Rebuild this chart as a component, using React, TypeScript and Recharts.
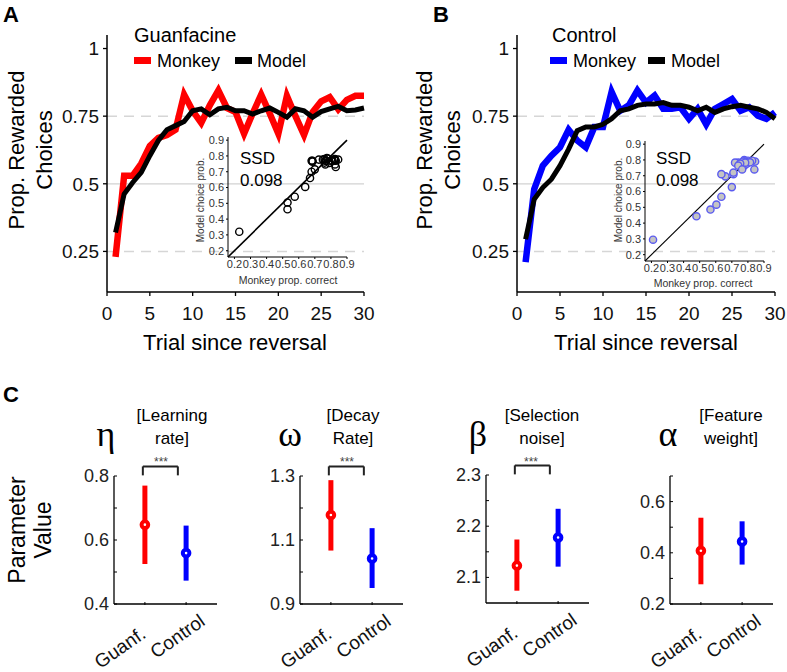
import React from "react";
import {
  LineChart,
  Line,
  XAxis,
  YAxis,
  ReferenceLine,
  ScatterChart,
  Scatter,
  ErrorBar,
} from "recharts";

// ---- panels A/B: proportion rewarded per trial ----
const trials = [1, 2, 3, 4, 5, 6, 7, 8, 9, 10, 11, 12, 13, 14, 15, 16, 17, 18, 19, 20, 21, 22, 23, 24, 25, 26, 27, 28, 29, 30];

const guanMonkey = [0.23, 0.53, 0.53, 0.575, 0.64, 0.67, 0.68, 0.7, 0.83, 0.77, 0.725, 0.79, 0.845, 0.78, 0.765, 0.685, 0.76, 0.83, 0.76, 0.685, 0.825, 0.75, 0.68, 0.765, 0.805, 0.82, 0.775, 0.81, 0.825, 0.825];
const guanModel = [0.32, 0.462, 0.505, 0.542, 0.604, 0.66, 0.7, 0.715, 0.73, 0.77, 0.777, 0.755, 0.777, 0.783, 0.77, 0.77, 0.758, 0.77, 0.78, 0.764, 0.746, 0.777, 0.77, 0.746, 0.767, 0.777, 0.786, 0.77, 0.773, 0.78];
const ctrlMonkey = [0.21, 0.48, 0.567, 0.604, 0.635, 0.7, 0.66, 0.635, 0.71, 0.71, 0.84, 0.77, 0.79, 0.845, 0.8, 0.826, 0.777, 0.777, 0.783, 0.74, 0.777, 0.72, 0.777, 0.795, 0.813, 0.77, 0.783, 0.752, 0.74, 0.764];
const ctrlModel = [0.295, 0.443, 0.486, 0.517, 0.567, 0.628, 0.696, 0.71, 0.71, 0.72, 0.74, 0.77, 0.777, 0.79, 0.795, 0.795, 0.8, 0.79, 0.79, 0.783, 0.77, 0.783, 0.764, 0.777, 0.785, 0.79, 0.783, 0.777, 0.764, 0.74];

const trialTicks = [0, 5, 10, 15, 20, 25, 30];
const propTicks = [0.25, 0.5, 0.75, 1];
const insetTicks = [0.2, 0.3, 0.4, 0.5, 0.6, 0.7, 0.8, 0.9];
const ssdText = "0.098";

// ---- panel C: parameter estimates ----
const groups = ["Guanf.", "Control"];
const paramSymbols = ["η", "ω", "β", "α"];
const paramNames = [
  ["[Learning", "rate]"],
  ["[Decay", "Rate]"],
  ["[Selection", "noise]"],
  ["[Feature", "weight]"],
];
const guanMean = [0.648, 1.178, 2.123, 0.408];
const guanLow = [0.525, 1.067, 2.074, 0.277];
const guanHigh = [0.77, 1.287, 2.174, 0.537];
const ctrlMean = [0.559, 1.042, 2.178, 0.444];
const ctrlLow = [0.473, 0.95, 2.121, 0.354];
const ctrlHigh = [0.645, 1.137, 2.234, 0.523];
const paramDomains = [[0.4, 0.8], [0.9, 1.3], [2.05, 2.3], [0.2, 0.7]];
const paramTicks = [
  [0.4, 0.5, 0.6, 0.7, 0.8],
  [0.9, 1.0, 1.1, 1.2, 1.3],
  [2.1, 2.15, 2.2, 2.25, 2.3],
  [0.2, 0.3, 0.4, 0.5, 0.6, 0.7],
];
const paramLabeled = [[0.4, 0.6, 0.8], [0.9, 1.1, 1.3], [2.1, 2.2, 2.3], [0.2, 0.4, 0.6]];
const significant = [true, true, true, false];

// layout
const cAxisX = [114, 300, 486, 670];
const cPlotTop = [476, 476, 475, 476];
const RED = "#ff0000";
const BLUE = "#0000ff";
const SANS = "'Liberation Sans', Arial, Helvetica, sans-serif";
const SERIF = "'Liberation Serif', 'DejaVu Serif', serif";

function TrialPanel({ left, width, right, monkey, model, color }: any) {
  const data = trials.map((t, i) => ({ trial: t, monkey: monkey[i], model: model[i] }));
  return (
    <div style={{ position: "absolute", left, top: 0 }}>
      <LineChart width={width} height={360} data={data} margin={{ top: 35, right, bottom: 0, left: 0 }}>
        <XAxis
          dataKey="trial"
          type="number"
          domain={[0, 30]}
          ticks={trialTicks}
          interval={0}
          height={68}
          axisLine={{ stroke: "#000", strokeWidth: 1.5 }}
          tickLine={{ stroke: "#000", strokeWidth: 1.3 }}
          tickSize={4}
          tickMargin={11}
          tick={{ fontSize: 19, fill: "#111" }}
        />
        <YAxis
          type="number"
          domain={[0.1, 1.05]}
          ticks={propTicks}
          interval={0}
          width={107}
          allowDataOverflow
          axisLine={{ stroke: "#000", strokeWidth: 1.5 }}
          tickLine={{ stroke: "#000", strokeWidth: 1.3 }}
          tickSize={4}
          tickMargin={4}
          tick={{ fontSize: 19, fill: "#111" }}
        />
        <ReferenceLine y={0.25} stroke="#d6d6d6" strokeWidth={1.5} strokeDasharray="10 7" />
        <ReferenceLine y={0.5} stroke="#d2d2d2" strokeWidth={1.3} />
        <ReferenceLine y={0.75} stroke="#d6d6d6" strokeWidth={1.5} strokeDasharray="10 7" />
        <Line dataKey="monkey" type="linear" stroke={color} strokeWidth={6.5} dot={false} isAnimationActive={false} />
        <Line dataKey="model" type="linear" stroke="#000" strokeWidth={5} dot={false} isAnimationActive={false} />
      </LineChart>
    </div>
  );
}

function Inset({ left, top, monkey, model, stroke, fill, lineWidth }: any) {
  const data = monkey.map((m: number, i: number) => ({ x: m, y: model[i] }));
  return (
    <div style={{ position: "absolute", left, top }}>
      <ScatterChart width={172} height={160} margin={{ top: 10, right: 13, bottom: 0, left: 0 }}>
        <XAxis
          dataKey="x"
          type="number"
          domain={[0.16, 0.9]}
          ticks={insetTicks}
          interval={0}
          height={30}
          allowDataOverflow
          axisLine={{ stroke: "#000", strokeWidth: 1 }}
          tickLine={{ stroke: "#000" }}
          tickSize={2}
          tickMargin={1}
          tick={{ fontSize: 11, fill: "#333" }}
        />
        <YAxis
          dataKey="y"
          type="number"
          domain={[0.16, 0.92]}
          ticks={insetTicks}
          interval={0}
          width={40}
          allowDataOverflow
          axisLine={{ stroke: "#000", strokeWidth: 1 }}
          tickLine={{ stroke: "#000" }}
          tickSize={2}
          tickMargin={2}
          tick={{ fontSize: 11, fill: "#333" }}
        />
        <ReferenceLine
          segment={[{ x: 0.16, y: 0.16 }, { x: 0.9, y: 0.9 }]}
          stroke="#000"
          strokeWidth={lineWidth}
          ifOverflow="visible"
        />
        <Scatter
          data={data}
          isAnimationActive={false}
          shape={(p: any) => <circle cx={p.cx} cy={p.cy} r={3.6} fill={fill} stroke={stroke} strokeWidth={1.4} />}
        />
      </ScatterChart>
    </div>
  );
}

function ParamPanel({ i }: { i: number }) {
  const [lo, hi] = paramDomains[i];
  const span = hi - lo;
  const top = cPlotTop[i] - 440;
  const guan = [{ x: 1, y: guanMean[i], err: [guanMean[i] - guanLow[i], guanHigh[i] - guanMean[i]] }];
  const ctrl = [{ x: 2, y: ctrlMean[i], err: [ctrlMean[i] - ctrlLow[i], ctrlHigh[i] - ctrlMean[i]] }];
  const labeled = paramLabeled[i];
  const bTop = hi + span * 0.075;
  const bLeg = hi + span * 0.005;

  const yTick = (p: any) => {
    const v = p.payload.value;
    const major = labeled.some((m) => Math.abs(m - v) < 1e-6);
    return (
      <g>
        <line x1={p.x + 5} x2={p.x + 8} y1={p.y} y2={p.y} stroke="#000" strokeWidth={1} />
        {major && (
          <text x={p.x} y={p.y} textAnchor="end" dominantBaseline="central" fontSize={18} fill="#222">
            {v.toFixed(1)}
          </text>
        )}
      </g>
    );
  };
  const xTick = (p: any) => {
    const idx = p.payload.value - 1;
    const shift = [-2, 20][idx];
    return (
      <g>
        <line x1={p.x} x2={p.x} y1={p.y - 28} y2={p.y - 25} stroke="#000" strokeWidth={1} />
        <text
          x={p.x}
          y={p.y}
          dx={shift}
          dy="0.35em"
          textAnchor="end"
          transform={`rotate(-35 ${p.x} ${p.y})`}
          fontSize={19}
          fill="#111"
        >
          {groups[idx]}
        </text>
      </g>
    );
  };

  return (
    <div style={{ position: "absolute", left: cAxisX[i] - 60, top: 440 }}>
      <ScatterChart width={173} height={232} margin={{ top, right: 10, bottom: 0, left: 0 }}>
        <XAxis
          dataKey="x"
          type="number"
          domain={[0.25, 2.75]}
          ticks={[1, 2]}
          interval={0}
          height={232 - top - 128}
          axisLine={{ stroke: "#000", strokeWidth: 1.3 }}
          tickLine={false}
          tickSize={0}
          tickMargin={26}
          tick={xTick}
        />
        <YAxis
          dataKey="y"
          type="number"
          domain={[lo, hi]}
          ticks={paramTicks[i]}
          interval={0}
          width={60}
          allowDataOverflow
          axisLine={{ stroke: "#000", strokeWidth: 1.3 }}
          tickLine={false}
          tickSize={3}
          tickMargin={2}
          tick={yTick}
        />
        {significant[i] && (
          <ReferenceLine segment={[{ x: 0.95, y: bTop }, { x: 1.8, y: bTop }]} stroke="#222" strokeWidth={2} ifOverflow="visible" />
        )}
        {significant[i] && (
          <ReferenceLine segment={[{ x: 0.95, y: bTop }, { x: 0.95, y: bLeg }]} stroke="#222" strokeWidth={2} ifOverflow="visible" />
        )}
        {significant[i] && (
          <ReferenceLine segment={[{ x: 1.8, y: bTop }, { x: 1.8, y: bLeg }]} stroke="#222" strokeWidth={2} ifOverflow="visible" />
        )}
        <Scatter
          data={guan}
          isAnimationActive={false}
          shape={(p: any) => <circle cx={p.cx} cy={p.cy} r={3.3} fill="#fff" stroke={RED} strokeWidth={4} />}
        >
          <ErrorBar dataKey="err" direction="y" width={0} stroke={RED} strokeWidth={5} isAnimationActive={false} />
        </Scatter>
        <Scatter
          data={ctrl}
          isAnimationActive={false}
          shape={(p: any) => <circle cx={p.cx} cy={p.cy} r={3.3} fill="#fff" stroke={BLUE} strokeWidth={4} />}
        >
          <ErrorBar dataKey="err" direction="y" width={0} stroke={BLUE} strokeWidth={5} isAnimationActive={false} />
        </Scatter>
      </ScatterChart>
    </div>
  );
}

function Overlay() {
  const nameX = [172, 353, 542, 731];
  const symX = [106, 290, 478, 668];
  const starX = [161, 347, 531];
  return (
    <svg
      width={787}
      height={672}
      style={{ position: "absolute", left: 0, top: 0, pointerEvents: "none", fontFamily: SANS }}
    >
      {/* panel letters */}
      <text x={3} y={22} fontSize={22} fontWeight="bold">A</text>
      <text x={433} y={22} fontSize={22} fontWeight="bold">B</text>
      <text x={3} y={402} fontSize={22} fontWeight="bold">C</text>

      {/* panel A */}
      <text x={134} y={35} fontSize={20} dominantBaseline="central">Guanfacine</text>
      <rect x={134} y={57} width={17} height={7} fill={RED} />
      <text x={157} y={61} fontSize={18} dominantBaseline="central">Monkey</text>
      <rect x={235} y={57} width={17} height={7} fill="#000" />
      <text x={257} y={61} fontSize={18} dominantBaseline="central">Model</text>
      <text transform="translate(16,150) rotate(-90)" textAnchor="middle" dominantBaseline="central" fontSize={22}>Prop. Rewarded</text>
      <text transform="translate(44,150) rotate(-90)" textAnchor="middle" dominantBaseline="central" fontSize={22}>Choices</text>
      <text x={235} y={342} textAnchor="middle" dominantBaseline="central" fontSize={22}>Trial since reversal</text>
      <text x={240} y={158} fontSize={17} dominantBaseline="central">SSD</text>
      <text x={240} y={180} fontSize={17} dominantBaseline="central">{ssdText}</text>
      <text transform="translate(200,200) rotate(-90)" textAnchor="middle" dominantBaseline="central" fontSize={10} fill="#333">Model choice prob.</text>
      <text x={288} y={280} textAnchor="middle" dominantBaseline="central" fontSize={10.5} fill="#333">Monkey prop. correct</text>

      {/* panel B */}
      <text x={552} y={35} fontSize={20} dominantBaseline="central">Control</text>
      <rect x={550} y={57} width={17} height={7} fill={BLUE} />
      <text x={573} y={61} fontSize={18} dominantBaseline="central">Monkey</text>
      <rect x={648} y={57} width={17} height={7} fill="#000" />
      <text x={671} y={61} fontSize={18} dominantBaseline="central">Model</text>
      <text transform="translate(424,150) rotate(-90)" textAnchor="middle" dominantBaseline="central" fontSize={22}>Prop. Rewarded</text>
      <text transform="translate(452,150) rotate(-90)" textAnchor="middle" dominantBaseline="central" fontSize={22}>Choices</text>
      <text x={646} y={342} textAnchor="middle" dominantBaseline="central" fontSize={22}>Trial since reversal</text>
      <text x={656} y={158} fontSize={17} dominantBaseline="central">SSD</text>
      <text x={656} y={180} fontSize={17} dominantBaseline="central">{ssdText}</text>
      <text transform="translate(618,200) rotate(-90)" textAnchor="middle" dominantBaseline="central" fontSize={10} fill="#333">Model choice prob.</text>
      <text x={703} y={283} textAnchor="middle" dominantBaseline="central" fontSize={10.5} fill="#333">Monkey prop. correct</text>

      {/* panel C */}
      <text transform="translate(17,530) rotate(-90)" textAnchor="middle" dominantBaseline="central" fontSize={23}>Parameter</text>
      <text transform="translate(43,530) rotate(-90)" textAnchor="middle" dominantBaseline="central" fontSize={23}>Value</text>
      {paramSymbols.map((s, i) => (
        <text key={s} x={symX[i]} y={434} textAnchor="middle" dominantBaseline="central" fontSize={36} fontFamily={SERIF}>
          {s}
        </text>
      ))}
      {paramNames.map((n, i) => (
        <g key={n[0]}>
          <text x={nameX[i]} y={415} textAnchor="middle" dominantBaseline="central" fontSize={17}>{n[0]}</text>
          <text x={nameX[i]} y={438} textAnchor="middle" dominantBaseline="central" fontSize={17}>{n[1]}</text>
        </g>
      ))}
      {significant.map((sig, i) =>
        sig ? (
          <text key={i} x={starX[i]} y={462} textAnchor="middle" dominantBaseline="central" fontSize={12} fill="#444">***</text>
        ) : null
      )}
    </svg>
  );
}

export default function App() {
  return (
    <div style={{ position: "absolute", left: 0, top: 0, width: 787, height: 672, background: "#fff", fontFamily: SANS }}>
      <TrialPanel left={0} width={393} right={29} monkey={guanMonkey} model={guanModel} color={RED} />
      <TrialPanel left={410} width={377} right={12} monkey={ctrlMonkey} model={ctrlModel} color={BLUE} />
      <Inset left={188} top={127} monkey={guanMonkey} model={guanModel} stroke="#000" fill="none" lineWidth={1.6} />
      <Inset left={605} top={131} monkey={ctrlMonkey} model={ctrlModel} stroke="#5b5bf0" fill="#c4c4c4" lineWidth={1.1} />
      {[0, 1, 2, 3].map((i) => (
        <ParamPanel key={i} i={i} />
      ))}
      <Overlay />
    </div>
  );
}
